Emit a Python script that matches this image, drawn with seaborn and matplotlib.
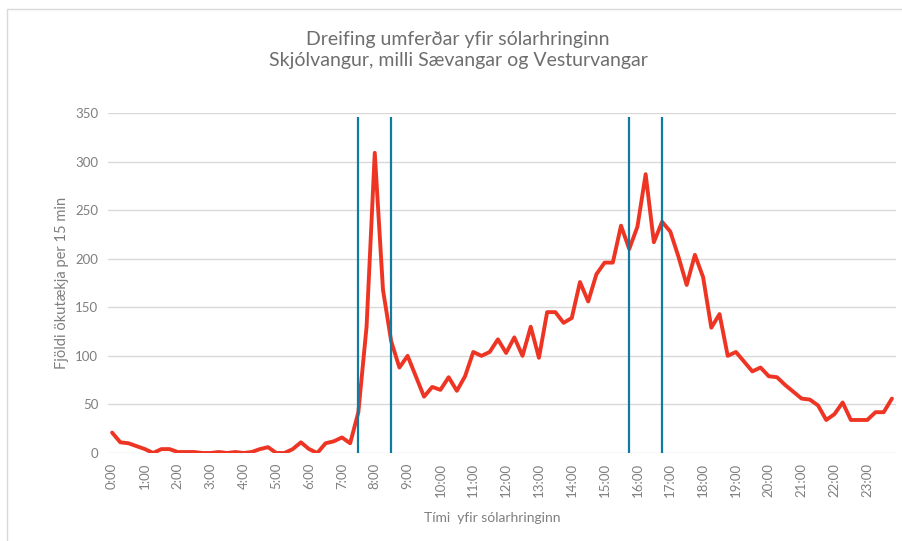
import numpy as np
import pandas as pd
import matplotlib.pyplot as plt
import matplotlib.patches as mpatches
import seaborn as sns

# 15-min counts, 0:00 .. 23:45
counts = [21, 11, 10, 7, 4, 0, 4, 4, 1, 1, 1, 0,
          0, 1, 0, 1, 0, 1, 4, 6, 0, 0, 4, 11,
          4, 0, 10, 12, 16, 10, 42, 130, 309, 168, 115, 88,
          100, 79, 58, 68, 65, 78, 64, 79, 104, 100, 104, 117,
          103, 119, 100, 130, 98, 145, 145, 134, 139, 176, 156, 184,
          196, 196, 234, 210, 233, 287, 217, 238, 228, 202, 173, 204,
          181, 129, 143, 100, 104, 94, 84, 88, 79, 78, 70, 63,
          56, 55, 49, 34, 40, 52, 34, 34, 34, 42, 42, 56]
times = [f"{m // 60}:{m % 60:02d}" for m in range(0, 24 * 60, 15)]
hour_labels = [t for t in times if t.endswith(":00")]
marker_times = ["7:30", "8:30", "15:45", "16:45"]
marker_top = 346

title = "Dreifing umferðar yfir sólarhringinn\nSkjólvangur, milli Sævangar og Vesturvangar"
xlabel = "Tími  yfir sólarhringinn"
ylabel = "Fjöldi ökutækja per 15 min"

df = pd.DataFrame({"idx": np.arange(len(counts)), "time": times, "count": counts})

sns.set_theme(style="white")
plt.rcParams['font.family'] = ['Lato', 'DejaVu Sans']

grey = "#7f7f7f"
fig = plt.figure(figsize=(9.02, 5.41), dpi=100)
ax = fig.add_axes([108 / 902, 1 - 453 / 541, (896 - 108) / 902, (453 - 113) / 541])

ax.yaxis.grid(True, color="#d9d9d9", lw=1)
ax.set_axisbelow(True)
sns.lineplot(data=df, x="idx", y="count", color="#ee3524", lw=2.8, ax=ax, zorder=3)

for t in marker_times:
    ax.vlines(times.index(t), 0, marker_top, color="#0f7ba3", lw=1.6, zorder=4)

ax.set_xlim(-0.5, len(counts) - 0.5)
ax.set_ylim(0, 350)
ax.set_yticks(range(0, 351, 50))
ax.set_xticks([times.index(h) for h in hour_labels])
ax.set_xticklabels(hour_labels, rotation=90)
ax.tick_params(axis="both", colors=grey, labelsize=9.5, length=0, pad=7)
for s in ax.spines.values():
    s.set_visible(False)
ax.set_xlabel("")
ax.set_ylabel("")

fig.text(0.508, 1 - 50 / 541, title, ha="center", va="center", fontsize=14,
         color="#6e6e6e", linespacing=1.25)
fig.text(62 / 902, 1 - 283 / 541, ylabel, rotation=90, ha="center", va="center",
         fontsize=10.5, color=grey)
fig.text(492 / 902, 1 - 518 / 541, xlabel, ha="center", va="center",
         fontsize=10, color=grey)

# faint chart-area border
fig.patches.append(mpatches.Rectangle((7 / 902, -0.1), 1.2, 1 - 9 / 541 + 0.1,
                                      transform=fig.transFigure, fill=False,
                                      ec="#d9d9d9", lw=1))

fig.savefig("out.png", dpi=100)
